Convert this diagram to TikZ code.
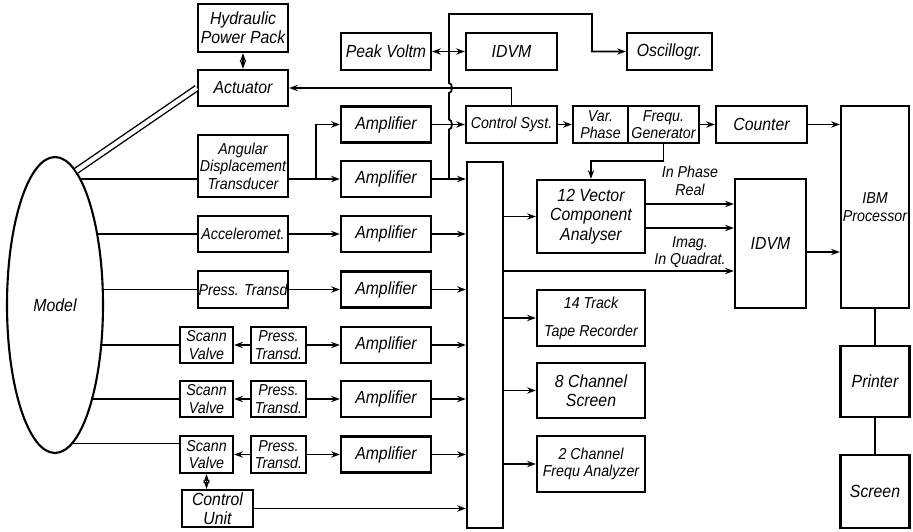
\documentclass[tikz,border=0pt]{standalone}
\usepackage{fontspec}
\setsansfont{Liberation Sans}[FakeStretch=0.9]
\usetikzlibrary{arrows.meta,positioning,shapes.geometric}
\pgfdeclarelayer{background}
\pgfsetlayers{background,main}
\newcommand{\lbl}{\sffamily\itshape\fontsize{10}{11}\selectfont}
\newcommand{\lblsm}{\sffamily\itshape\fontsize{9}{10}\selectfont}

\begin{document}
\begin{tikzpicture}[x=0.02cm,y=-0.02cm,>={Stealth[length=5pt,width=3.6pt]},
  blk/.style={draw,line width=1.3pt,font=\lbl,align=center,inner sep=0pt,minimum width=1.8cm,minimum height=0.72cm},
  wire/.style={line width=1pt}]
\useasboundingbox (0,0) rectangle (913,531);

% model and sensors
\node[ellipse,draw,fill=white,line width=1.2pt,minimum width=1.92cm,minimum height=5.92cm,inner sep=0pt,font=\lbl] (model) at (55,305) {Model};
\node[blk,minimum height=0.96cm] (hyd) at (243,28) {Hydraulic\\Power Pack};
\node[blk] (act) at (243,88) {Actuator};
\node[blk,minimum height=1.24cm,font=\lblsm] (adt) at (243,166) {Angular\\Displacement\\Transducer};
\node[blk,font=\lblsm] (acc) at (243,234) {Acceleromet.};
\node[blk,minimum height=0.74cm,font=\lblsm] (ptr) at (243,289.5) {Press. Transd};
\node[blk,minimum width=1.06cm,font=\lblsm] (sv1) at (206.5,345) {Scann\\Valve};
\node[blk,minimum width=1.1cm,font=\lblsm] (pt1) at (278.5,345) {Press.\\Transd.};
\node[blk,minimum width=1.06cm,font=\lblsm] (sv2) at (206.5,399) {Scann\\Valve};
\node[blk,minimum width=1.1cm,font=\lblsm] (pt2) at (278.5,399) {Press.\\Transd.};
\node[blk,minimum width=1.06cm,minimum height=0.74cm,font=\lblsm] (sv3) at (206.5,454.5) {Scann\\Valve};
\node[blk,minimum width=1.1cm,minimum height=0.74cm,font=\lblsm] (pt3) at (278.5,454.5) {Press.\\Transd.};
\node[blk,minimum width=1.42cm,minimum height=0.74cm] (cu) at (217.5,508.5) {Control\\Unit};

% amplifiers
\foreach \n/\y in {1/124.5,2/179,3/234,4/289.5,5/345,6/399,7/454.5}
  \node[blk] (amp\n) at (386,\y) {Amplifier};

% top row
\node[blk,minimum height=0.74cm] (pv) at (386,51.5) {Peak Voltm};
\node[blk,minimum width=1.82cm,minimum height=0.74cm] (dvm) at (511.5,51.5) {IDVM};
\node[blk,minimum width=1.7cm,minimum height=0.74cm] (osc) at (669.5,51.5) {Oscillogr.};
\node[blk,minimum width=1.82cm,minimum height=0.74cm,font=\lblsm] (csys) at (511.5,124.5) {Control Syst.};
\node[blk,minimum width=1.1cm,minimum height=0.74cm,font=\lblsm] (vph) at (600.5,124.5) {Var.\\Phase};
\node[blk,minimum width=1.42cm,minimum height=0.74cm,font=\lblsm] (fgen) at (663.5,124.5) {Frequ.\\Generator};
\node[blk,minimum width=1.82cm,minimum height=0.74cm] (cnt) at (761.5,124.5) {Counter};

% processing side
\node[blk,minimum width=0.72cm,minimum height=7.32cm] (bus) at (485,345) {};
\node[blk,minimum width=2.16cm,minimum height=1.46cm] (vca) at (591,216.5) {12 Vector\\Component\\Analyser};
\node[blk,minimum width=2.16cm,minimum height=1.12cm,font=\lblsm] (tape) at (591,318) {14 Track\\[6pt]Tape Recorder};
\node[blk,minimum width=2.16cm,minimum height=1.1cm] (chs) at (591,390.5) {8 Channel\\Screen};
\node[blk,minimum width=2.16cm,minimum height=1.12cm,font=\lblsm] (fan) at (591,464) {2 Channel\\Frequ Analyzer};
\node[blk,minimum width=1.42cm,minimum height=2.58cm] (dvm2) at (770.5,243.5) {IDVM};
\node[blk,minimum width=1.36cm,minimum height=4.04cm,font=\lblsm] (ibm) at (875,207) {IBM\\Processor};
\node[blk,minimum width=1.38cm,minimum height=1.42cm] (prn) at (875,381.5) {Printer};
\node[blk,minimum width=1.38cm,minimum height=1.46cm] (scr) at (875,491.5) {Screen};

% lines leaving the model
\coordinate (sv3in) at ([yshift=0.22cm]sv3.west);
\begin{pgfonlayer}{background}
\draw[wire] (model.center |- amp2.west) -- (adt.west |- amp2.west);
\draw[wire] (model.center |- acc.west) -- (acc.west);
\draw[wire] (model.center |- ptr.west) -- (ptr.west);
\draw[wire] (model.center |- sv1.west) -- (sv1.west);
\draw[wire] (model.center |- sv2.west) -- (sv2.west);
\draw[wire] (model.center |- sv3in) -- (sv3in);
\end{pgfonlayer}
\draw[line width=0.8pt,double,double distance=2.4pt] (act.west) -- (model.81);
\draw[wire,<->] (hyd.south) -- (act.north);

% sensor chains
\coordinate (split) at (316,179);
\draw[wire,->] (adt.east |- amp2.west) -- (amp2.west);
\draw[wire,->] (split) |- (amp1.west);
\draw[wire,->] (acc.east) -- (amp3.west);
\draw[wire,->] (ptr.east) -- (amp4.west);
\foreach \n/\a in {1/5,2/6,3/7} {
  \draw[wire,->] (pt\n.west) -- (sv\n.east);
  \draw[wire,->] (pt\n.east) -- (amp\a.west);
}
\draw[wire,<->] (sv3.south) -- (sv3.south |- cu.north);
\draw[wire,->] (cu.east) -- (cu.east -| bus.west);
\foreach \n in {2,...,7}
  \draw[wire,->] (amp\n.east) -- (amp\n.east -| bus.west);

% monitoring line with hops
\coordinate (tap) at (449,179);
\draw[wire,->] (tap) -- (449,129.5) to[out=0,in=0] (449,119.5) -- (449,93)
  to[out=0,in=0] (449,83) -- (449,14) -| (592,51.5) -- (osc.west);
\draw[wire,->] (tap |- pv.east) -- (pv.east);
\draw[wire,->] (tap |- pv.east) -- (dvm.west);

% control loop
\draw[wire,->] (amp1.east) -- (csys.west);
\draw[wire,->] (csys.north) |- (act.east);
\draw[wire,->] (csys.east) -- (vph.west);
\draw[wire,->] (fgen.east) -- (cnt.west);
\draw[wire,->] (cnt.east) -- (cnt.east -| ibm.west);
\draw[wire,->] (fgen.south) -- ++(0,17) -| (vca.north);

% analysis
\foreach \t in {vca,tape,chs,fan}
  \draw[wire,->] (bus.east |- \t.west) -- (\t.west);
\draw[wire,->] ([yshift=0.25cm]vca.east) -- node[above=1pt,font=\lblsm,align=center] {In Phase\\Real} ([yshift=0.25cm]vca.east -| dvm2.west);
\draw[wire,->] ([yshift=-0.23cm]vca.east) -- node[below=1pt,font=\lblsm,align=center] {Imag.\\In Quadrat.} ([yshift=-0.23cm]vca.east -| dvm2.west);
\coordinate (iq) at ([yshift=-0.55cm]dvm2.west);
\draw[wire,->] (bus.east |- iq) -- (iq);
\draw[wire,->] ([yshift=-0.17cm]dvm2.east) -- ([yshift=-0.17cm]dvm2.east -| ibm.west);
\draw[wire] (ibm.south) -- (prn.north);
\draw[wire] (prn.south) -- (scr.north);
\end{tikzpicture}
\end{document}
